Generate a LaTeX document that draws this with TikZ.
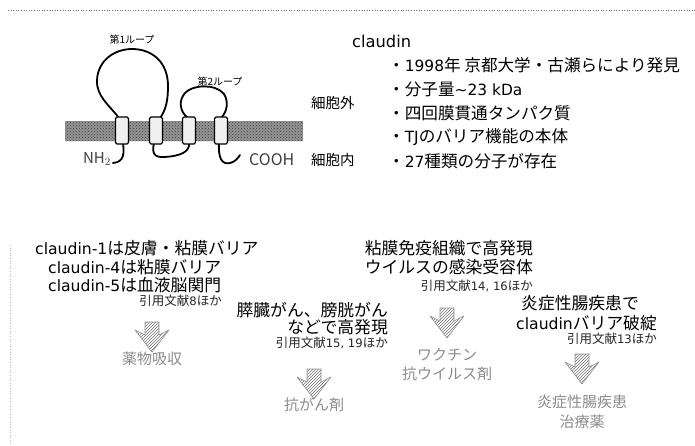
\documentclass[tikz,border=0pt]{standalone}
\usepackage{fontspec}
\setmainfont{Noto Sans CJK JP}
\newfontfamily\lat{DejaVu Sans}[Scale=0.93]
\usetikzlibrary{patterns}
\begin{document}
\begin{tikzpicture}[x=1pt,y=-1pt,
  txt/.style={inner sep=0pt, font=\fontsize{16.8}{18}\selectfont},
  bullet/.style={inner sep=0pt, anchor=west, font=\fontsize{16.6}{18}\selectfont},
  cite/.style={inner sep=0pt, anchor=east, font=\fontsize{12.5}{14}\selectfont, text=black!85},
  tiny/.style={inner sep=0pt, font=\fontsize{10}{12}\selectfont},
  side/.style={inner sep=0pt, anchor=west, font=\fontsize{14.5}{16}\selectfont},
  use/.style={inner sep=0pt, font=\fontsize{15}{17}\selectfont, text=black!45},
  chain/.style={line width=1.8pt, line cap=round},
  tm/.style={draw=black, line width=1.1pt, fill=black!6, rounded corners=1.5pt},
  hatcharrow/.pic={
    \fill[pattern=north east lines, pattern color=black!55]
      (-7,0) -- (7,0) -- (7,13) -- (17,8) -- (0,30) -- (-17,8) -- (-7,13) -- cycle;
    \draw[black!45, line width=0.6pt, line join=round]
      (-7,0) -- (7,0) -- (7,13) -- (17,8) -- (0,30) -- (-17,8) -- (-7,13) -- cycle;
  }
]
\useasboundingbox (0,0) rectangle (695,445);
\fill[white] (0,0) rectangle (695,445);

% frame lines
\draw[black!55, dotted, line width=0.6pt] (8,10) -- (695,10);
\draw[black!25, dotted, line width=0.6pt] (10,245) -- (10,445);

% membrane
\fill[black!42] (65,121) rectangle (303,141);
\fill[pattern=crosshatch dots, pattern color=black!75] (65,121) rectangle (303,141);

% protein chain
\draw[chain] (119,118) .. controls (110,106) and (96,96) .. (97,80)
  .. controls (98,60) and (115,49) .. (132,49)
  .. controls (152,49) and (168,62) .. (168,86)
  .. controls (168,100) and (166,110) .. (160,118);
\draw[chain] (188,118) .. controls (180,112) and (178,101) .. (185,93)
  .. controls (192,85) and (215,83) .. (224,94)
  .. controls (229,102) and (227,112) .. (221,118);
\draw[chain] (154,143) .. controls (152,152) and (153,158) .. (165,157)
  .. controls (180,156) and (190,152) .. (189,143);
\draw[chain] (123,143) .. controls (124,152) and (125,162) .. (113,163);
\draw[chain] (219,143) .. controls (218,158) and (222,165) .. (230,163)
  .. controls (235,162) and (238,158) .. (240,155);

% transmembrane segments
\foreach \cx/\nm in {122/tm1,156/tm2,189/tm3,221/tm4}
  \node[tm, minimum width=13pt, minimum height=27pt, inner sep=0pt] (\nm) at (\cx,130.5) {};

% labels around the membrane
\node[tiny] (loop1) at (132,40) {第1ループ};
\node[tiny] (loop2) at (220,82) {第2ループ};
\node[side] (outside) at (311,103) {細胞外};
\node[side] (inside) at (311,160) {細胞内};
\node[inner sep=0pt, anchor=east, font=\fontsize{15}{16}\selectfont, text=black!75] (nh2) at (111,159) {NH$_2$};
\node[inner sep=0pt, anchor=west, font=\fontsize{16}{16}\selectfont, text=black!75] (cooh) at (249,160) {COOH};

% claudin summary
\node[inner sep=0pt, anchor=west, font=\fontsize{17.5}{18}\selectfont] (title) at (352,41) {\lat claudin};
\node[bullet] (b1) at (388,65) {・{\lat 1998}年 京都大学・古瀬らにより発見};
\node[bullet] (b2) at (388,89) {・分子量{\lat\textasciitilde 23 kDa}};
\node[bullet] (b3) at (388,113) {・四回膜貫通タンパク質};
\node[bullet] (b4) at (388,137) {・{\lat TJ}のバリア機能の本体};
\node[bullet] (b5) at (388,161) {・{\lat 27}種類の分子が存在};

% barrier
\node[txt, anchor=west] (a1) at (35,248) {{\lat claudin-1}は皮膚・粘膜バリア};
\node[txt, anchor=west] (a2) at (48,267) {{\lat claudin-4}は粘膜バリア};
\node[txt, anchor=west] (a3) at (48,285) {{\lat claudin-5}は血液脳関門};
\node[cite] (ac) at (222,301) {引用文献{\lat 8}ほか};
\pic at (152,322) {hatcharrow};
\node[use] (au) at (152,359) {薬物吸収};

% cancer
\node[txt, anchor=east] (c1) at (388,310) {膵臓がん、膀胱がん};
\node[txt, anchor=east] (c2) at (388,327) {などで高発現};
\node[cite] (cc) at (388,343) {引用文献{\lat 15, 19}ほか};
\pic at (314,369) {hatcharrow};
\node[use] (cu) at (314,405) {抗がん剤};

% mucosal immunity
\node[txt, anchor=east] (v1) at (533,248) {粘膜免疫組織で高発現};
\node[txt, anchor=east] (v2) at (533,267) {ウイルスの感染受容体};
\node[cite] (vc) at (533,286) {引用文献{\lat 14, 16}ほか};
\pic at (447,308) {hatcharrow};
\node[use] (vu1) at (447,355) {ワクチン};
\node[use] (vu2) at (447,374) {抗ウイルス剤};

% inflammatory bowel disease
\node[txt] (d1) at (580,303) {炎症性腸疾患で};
\node[txt, anchor=east] (d2) at (657,323) {{\lat claudin}バリア破綻};
\node[cite] (dc) at (657,339) {引用文献{\lat 13}ほか};
\pic at (582,354) {hatcharrow};
\node[use] (du1) at (582,402) {炎症性腸疾患};
\node[use] (du2) at (582,422) {治療薬};
\end{tikzpicture}
\end{document}
